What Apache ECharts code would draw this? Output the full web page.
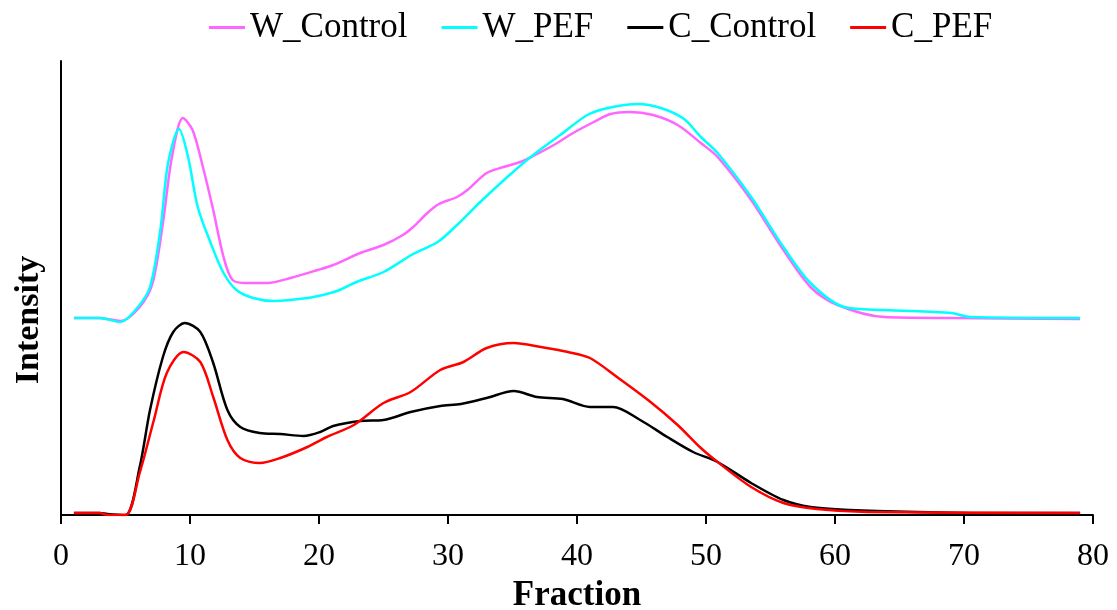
<!DOCTYPE html>
<html>
<head>
<meta charset="utf-8">
<script src="https://cdn.jsdelivr.net/npm/echarts@6/dist/echarts.min.js"></script>
<style>
  html, body { margin: 0; padding: 0; background: #fff; }
  #chart { width: 1117px; height: 610px; }
</style>
</head>
<body>
<div id="chart"></div>
<script>
// fraction numbers (x) and intensity (arbitrary units)
const wControlX = [1, 3, 4.6, 6.1, 7.1, 7.9, 8.6, 9.45, 10.2, 11, 11.8, 12.6, 13.3, 14.4, 16, 17.8, 19.9, 21.1, 23.2, 25, 26.5, 27.3, 28.4, 29.3, 30.7, 31.5, 33, 34.3, 35.6, 36.6, 38.2, 39.7, 41.3, 42.6, 44.1, 45.9, 47.8, 49.6, 50.9, 53.5, 56, 58.1, 60.2, 63.8, 69, 79]
const wControlY = [197, 197, 194, 208, 232, 292, 358, 397, 385, 348, 305, 258, 235, 232, 232, 237, 245, 250, 262, 270, 280, 288, 302, 311, 318, 325, 342, 348, 353, 359, 370, 382, 393, 401, 403, 400, 390, 372, 358, 315, 265, 228, 210, 198, 197, 196]

const wPefX = [1, 3, 4.6, 5.9, 6.9, 7.7, 8.3, 9.15, 9.85, 10.6, 11.6, 12.6, 13.6, 14.9, 16.5, 19.1, 20.6, 21.6, 22.9, 25, 27.3, 29.2, 30.7, 32.5, 34.6, 36.6, 38.7, 40.8, 42.4, 44.7, 46.5, 48.3, 49.6, 50.9, 53.5, 56, 58.1, 60.7, 63.8, 69, 70.5, 79]
const wPefY = [197, 197, 193, 207, 228, 285, 352, 386, 358, 308, 272, 242, 225, 217, 214, 217, 221, 225, 233, 243, 261, 273, 290, 313, 338, 360, 380, 400, 407, 411, 407, 396, 378, 362, 318, 268, 232, 208, 205, 202, 198, 197]

const cControlX = [1, 3, 3.6, 5, 6.1, 6.9, 7.9, 8.7, 9.6, 10.8, 11.8, 12.9, 13.9, 15.4, 17, 18.8, 20.1, 21.1, 23.2, 25, 27.1, 29.4, 31, 33, 35.1, 36.9, 38.9, 41, 42.8, 44.9, 47, 49, 50.9, 53.5, 56, 58.1, 61.2, 66.4, 71.5, 79]
const cControlY = [2, 2, 1, 0, 48, 105, 158, 183, 192, 183, 152, 105, 88, 82, 81, 79, 83, 89, 94, 95, 103, 109, 111, 117, 124, 118, 116, 108, 108, 95, 78, 63, 53, 32, 15, 8, 5, 3, 2, 2]

const cPefX = [1, 3, 3.6, 5, 6.1, 7.2, 8.2, 9.5, 10.8, 11.8, 12.9, 13.9, 15.4, 17, 19.1, 20.6, 22.7, 25, 27.1, 29.4, 31.2, 33, 35.1, 37.2, 39.3, 41, 43.1, 45.7, 47.8, 49.6, 50.9, 53.5, 56, 58.6, 62.5, 79]
const cPefY = [2, 2, 0, 0, 42, 95, 142, 163, 153, 118, 75, 57, 52, 57, 68, 78, 90, 112, 123, 145, 153, 167, 172, 168, 163, 157, 138, 113, 90, 67, 53, 28, 12, 6, 3, 2]

const seriesNames = ["W_Control", "W_PEF", "C_Control", "C_PEF"]
const seriesColors = ["#ff66ff", "#00ffff", "#000000", "#ff0000"]
const xTicks = [0, 80, 10] // min, max, step

const zip = (xs, ys) => xs.map((x, i) => [x, ys[i]])
const seriesData = [
  zip(wControlX, wControlY),
  zip(wPefX, wPefY),
  zip(cControlX, cControlY),
  zip(cPefX, cPefY),
]

const font = "'Liberation Serif', 'Times New Roman', serif"

const chart = echarts.init(document.getElementById("chart"))
chart.setOption({
  animation: false,
  color: seriesColors,
  legend: {
    left: 204,
    top: 5,
    icon: "rect",
    itemWidth: 36,
    itemHeight: 3,
    itemGap: 34,
    textStyle: { fontFamily: font, fontSize: 35, color: "#000" },
    data: seriesNames,
  },
  grid: { left: 61, right: 24, top: 61, bottom: 95, containLabel: false, outerBoundsMode: "none" },
  xAxis: {
    type: "value",
    min: xTicks[0],
    max: xTicks[1],
    interval: xTicks[2],
    name: "Fraction",
    nameLocation: "middle",
    nameGap: 63,
    nameTextStyle: { fontFamily: font, fontSize: 35, fontWeight: "bold", color: "#000" },
    axisLine: { lineStyle: { color: "#000", width: 2 } },
    axisTick: { show: true, length: 9, lineStyle: { color: "#000", width: 2 } },
    axisLabel: { fontFamily: font, fontSize: 32, color: "#000", margin: 26 },
    splitLine: { show: false },
  },
  yAxis: {
    type: "value",
    min: 0,
    max: 454,
    name: "Intensity",
    nameLocation: "middle",
    nameGap: 15,
    nameTextStyle: { fontFamily: font, fontSize: 34, fontWeight: "bold", color: "#000", padding: [0, 64, 0, 0] },
    axisLine: { show: true, lineStyle: { color: "#000", width: 2 } },
    axisTick: { show: false },
    axisLabel: { show: false },
    splitLine: { show: false },
  },
  series: seriesNames.map((name, i) => ({
    name: name,
    type: "line",
    data: seriesData[i],
    smooth: 0.3,
    symbol: "none",
    lineStyle: { width: 2.5, color: seriesColors[i] },
    z: 10 + i,
  })),
})
</script>
</body>
</html>
